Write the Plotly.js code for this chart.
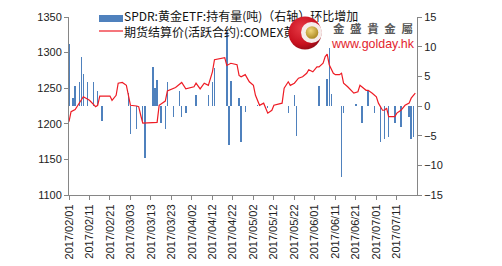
<!DOCTYPE html>
<html>
<head>
<meta charset="utf-8">
<script src="https://cdn.plot.ly/plotly-3.0.1.min.js"></script>
<style>
html,body{margin:0;padding:0;background:#fff;}
#wrap{position:relative;width:502px;height:266px;}
#chart{position:absolute;left:0;top:0;width:502px;height:266px;}
#logo{position:absolute;left:0;top:0;width:502px;height:266px;pointer-events:none;}
</style>
</head>
<body>
<div id="wrap">
<div id="chart"></div>
<svg id="logo" width="502" height="266" xmlns="http://www.w3.org/2000/svg">
  <defs>
    <radialGradient id="redg" cx="40%" cy="35%" r="70%">
      <stop offset="0%" stop-color="#e63a45"/>
      <stop offset="70%" stop-color="#c8101e"/>
      <stop offset="100%" stop-color="#8e0a14"/>
    </radialGradient>
    <radialGradient id="goldg" cx="40%" cy="35%" r="70%">
      <stop offset="0%" stop-color="#f1d77a"/>
      <stop offset="100%" stop-color="#a8841c"/>
    </radialGradient>
  </defs>
  <circle cx="305" cy="33" r="16.5" fill="url(#redg)"/>
  <circle cx="311.5" cy="32.5" r="10.5" fill="#f6ecea"/>
  <circle cx="312" cy="32.5" r="6.3" fill="url(#goldg)"/>
  <text x="333" y="32.5" font-family="Noto Sans CJK TC" font-weight="bold" font-size="11.5" fill="#5a5a5a" letter-spacing="5.6">金盛貴金屬</text>
  <text x="332" y="48" font-family="Liberation Sans, Arial, sans-serif" font-size="13" fill="#e3232e" textLength="82" lengthAdjust="spacingAndGlyphs">www.golday.hk</text>
</svg>
</div>
<script>
// ---- data ----
var lineName = '期货结算价(活跃合约):COMEX黄金';
var barName = 'SPDR:黄金ETF:持有量(吨)（右轴）环比增加';

var priceDates = ['2017-02-01','2017-02-02','2017-02-04','2017-02-08','2017-02-11','2017-02-14','2017-02-15','2017-02-16','2017-02-21','2017-02-22','2017-02-24','2017-02-25','2017-02-27',
 '2017-03-01','2017-03-02','2017-03-03','2017-03-06','2017-03-07','2017-03-08','2017-03-09','2017-03-16','2017-03-17','2017-03-20','2017-03-21','2017-03-25','2017-03-28','2017-03-30',
 '2017-04-03','2017-04-04','2017-04-06','2017-04-08','2017-04-10','2017-04-12','2017-04-13','2017-04-18','2017-04-19','2017-04-21','2017-04-24','2017-04-25','2017-04-26','2017-04-28','2017-04-30',
 '2017-05-02','2017-05-03','2017-05-05','2017-05-07','2017-05-09','2017-05-11','2017-05-12','2017-05-15','2017-05-16','2017-05-17','2017-05-19','2017-05-20','2017-05-22','2017-05-24','2017-05-26','2017-05-28','2017-05-29','2017-05-31',
 '2017-06-02','2017-06-03','2017-06-05','2017-06-06','2017-06-07','2017-06-08','2017-06-10','2017-06-11','2017-06-13','2017-06-14','2017-06-15','2017-06-17','2017-06-20','2017-06-22','2017-06-23','2017-06-26','2017-06-27','2017-06-29',
 '2017-07-01','2017-07-02','2017-07-04','2017-07-05','2017-07-06','2017-07-07','2017-07-10','2017-07-11','2017-07-13','2017-07-15','2017-07-17','2017-07-18','2017-07-20'];
var priceValues = [1203,1217,1220,1238,1233,1224,1226,1239,1239,1233,1240,1257,1258,
 1254,1240,1226,1225,1224,1212,1201,1202,1226,1232,1246,1251,1258,1249,
 1252,1257,1249,1257,1254,1273,1290,1293,1282,1285,1283,1268,1266,1269,1259,
 1254,1240,1226,1229,1215,1219,1226,1229,1229,1250,1259,1254,1257,1264,1266,1271,1276,1273,
 1280,1280,1285,1294,1298,1283,1271,1269,1269,1271,1257,1252,1243,1245,1254,1247,1247,1243,
 1238,1229,1219,1219,1222,1210,1210,1215,1219,1226,1229,1236,1243];

var etfDates = ['2017-02-01','2017-02-03','2017-02-04','2017-02-06','2017-02-07','2017-02-08','2017-02-10','2017-02-13','2017-02-15','2017-02-17',
 '2017-03-02','2017-03-03','2017-03-06','2017-03-09','2017-03-10','2017-03-14','2017-03-15','2017-03-16','2017-03-18','2017-03-20','2017-03-21','2017-03-24','2017-03-27','2017-03-28','2017-03-30',
 '2017-04-04','2017-04-10','2017-04-12','2017-04-13','2017-04-19','2017-04-20','2017-04-21','2017-04-25','2017-04-26','2017-04-28',
 '2017-05-04','2017-05-09','2017-05-19','2017-05-22','2017-05-23',
 '2017-06-03','2017-06-07','2017-06-08','2017-06-09','2017-06-14','2017-06-15','2017-06-21','2017-06-24','2017-06-27','2017-06-30',
 '2017-07-03','2017-07-05','2017-07-07','2017-07-10','2017-07-13','2017-07-17','2017-07-18','2017-07-19'];
var etfChange = [10.5,1.4,3.3,4.1,8.2,5.4,4.0,4.1,2.5,-2.5,
 2.2,-4.8,-3.8,-2.5,-8.8,6.6,3.0,4.4,-2.9,-3.8,4.1,-1.8,2.6,-1.8,-1.2,
 1.9,1.8,4.1,6.4,12.5,-6.5,4.2,1.3,-6.0,-1.0,
 0.2,-0.3,-1.2,1.8,-5.0,
 3.4,4.6,9.7,2.0,-11.9,-1.2,0.3,-2.9,2.5,-1.2,
 -6.1,-5.6,-5.3,-2.9,-3.6,-1.8,-5.6,-5.3];

var leftTicks = [1100,1150,1200,1250,1300,1350];
var rightTicks = [-15,-10,-5,0,5,10,15];

// ---- chart ----
var DAY = 86400000;
var axisColor = '#868686';
var tickFont = {family:'Liberation Sans, Arial, sans-serif', size:11, color:'#222'};

var traces = [
  {type:'bar', name:barName, x:etfDates, y:etfChange, yaxis:'y', width:0.7*DAY,
   marker:{color:'#4F81BD', line:{width:0}}, showlegend:false},
  {type:'scatter', mode:'lines', name:lineName, x:priceDates, y:priceValues, yaxis:'y2',
   line:{color:'#EE1C25', width:1.2}, showlegend:false}
];

function px(x){return (x-69)/348;}
function py(y){return (195-y)/178;}

var legFont = {family:'Noto Sans CJK SC, sans-serif', size:12, color:'#111'};

var layout = {
  width:502, height:266,
  margin:{l:69, r:85, t:17, b:71, pad:0},
  paper_bgcolor:'#ffffff', plot_bgcolor:'#ffffff',
  showlegend:false,
  bargap:0,
  xaxis:{type:'date', range:['2017-02-01','2017-07-20 20:00'], tick0:'2017-02-01', dtick:10*DAY,
    tickformat:'%Y/%m/%d', tickangle:-90, ticks:'outside', ticklen:4, tickcolor:axisColor,
    showline:true, linecolor:axisColor, linewidth:1, showgrid:false, zeroline:false, tickfont:tickFont},
  yaxis:{side:'right', range:[-15,15], tickvals:rightTicks, ticks:'outside', ticklen:4, tickcolor:axisColor,
    showline:true, linecolor:axisColor, linewidth:1, showgrid:false, zeroline:false, tickfont:tickFont},
  yaxis2:{overlaying:'y', side:'left', range:[1100,1350], tickvals:leftTicks, ticks:'outside', ticklen:4, tickcolor:axisColor,
    showline:true, linecolor:axisColor, linewidth:1, showgrid:false, zeroline:false, tickfont:tickFont},
  shapes:[
    {type:'rect', xref:'paper', yref:'paper', x0:px(99), x1:px(123), y0:py(22), y1:py(15), fillcolor:'#4F81BD', line:{width:0}},
    {type:'line', xref:'paper', yref:'paper', x0:px(99), x1:px(123), y0:py(31), y1:py(31), line:{color:'#EE1C25', width:1.2}}
  ],
  annotations:[
    {xref:'paper', yref:'paper', x:px(123), y:py(24), xanchor:'left', yanchor:'middle', align:'left', showarrow:false,
     borderpad:0, text:barName + '<br>' + lineName, font:legFont}
  ]
};

Plotly.newPlot('chart', traces, layout, {displayModeBar:false, staticPlot:true});
</script>
</body>
</html>
